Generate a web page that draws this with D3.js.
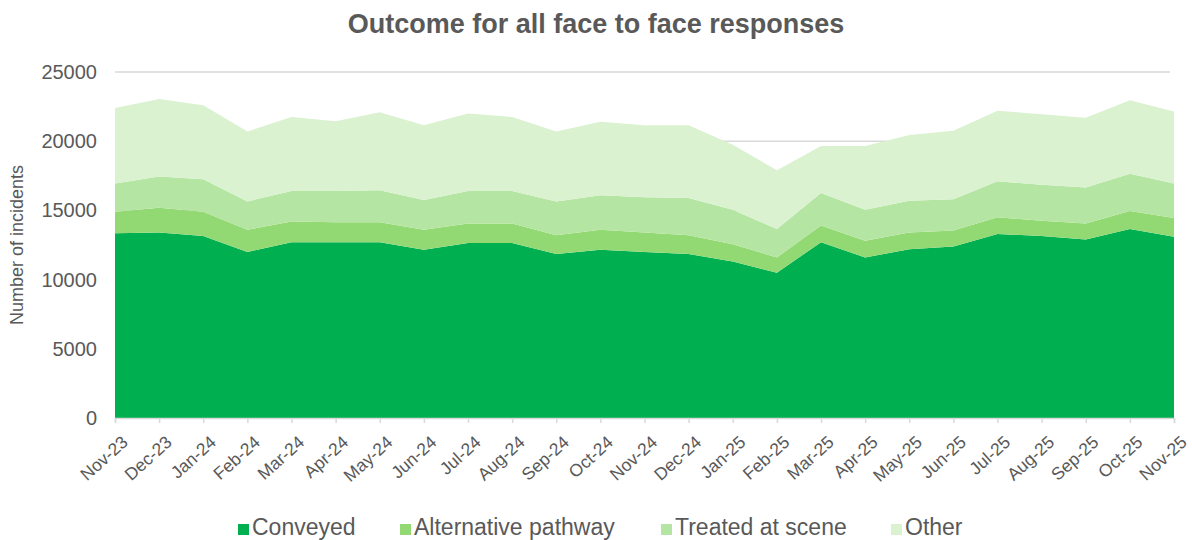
<!DOCTYPE html>
<html><head><meta charset="utf-8">
<script src="https://cdn.jsdelivr.net/npm/d3@7"></script>
<style>body{margin:0;background:#fff;}svg{display:block;font-family:"Liberation Sans",Arial,sans-serif;}</style>
</head><body>
<svg id="c" width="1192" height="540"></svg>
<script>
const months = ["Nov-23","Dec-23","Jan-24","Feb-24","Mar-24","Apr-24","May-24","Jun-24","Jul-24","Aug-24","Sep-24","Oct-24","Nov-24","Dec-24","Jan-25","Feb-25","Mar-25","Apr-25","May-25","Jun-25","Jul-25","Aug-25","Sep-25","Oct-25","Nov-25"];
const conveyed = [13350,13400,13150,12000,12700,12700,12700,12150,12650,12650,11850,12150,12000,11850,11300,10500,12700,11600,12200,12400,13300,13150,12900,13650,13100];
const alternative = [1550,1800,1750,1600,1500,1450,1450,1450,1400,1400,1350,1450,1400,1350,1250,1100,1200,1200,1200,1150,1200,1100,1150,1300,1350];
const treated = [2050,2250,2350,2050,2200,2250,2300,2150,2350,2350,2450,2500,2550,2700,2500,2050,2350,2250,2300,2250,2600,2600,2600,2700,2500];
const other = [5450,5600,5350,5050,5350,5050,5650,5400,5600,5350,5050,5300,5200,5250,4700,4250,3400,4600,4750,4950,5100,5100,5050,5300,5200];
const seriesNames = ["Conveyed","Alternative pathway","Treated at scene","Other"];
const yTicks = [0,5000,10000,15000,20000,25000];
const colors = ["#00B050","#92D973","#B5E5A2","#DAF2D0"];

const svg = d3.select("#c");
const L=115,R=1174,T=72,B=418;
const x = d3.scalePoint().domain(months).range([L,R]);
const y = d3.scaleLinear().domain([0,25000]).range([B,T]);
const data = months.map((m,i)=>({m, "Conveyed":conveyed[i], "Alternative pathway":alternative[i], "Treated at scene":treated[i], "Other":other[i]}));
const stack = d3.stack().keys(seriesNames)(data);

svg.append("text").attr("x",596).attr("y",33).attr("text-anchor","middle")
  .attr("font-size",27).attr("font-weight","bold").attr("fill","#595959")
  .text("Outcome for all face to face responses");

// gridlines
svg.append("g").selectAll("line").data(yTicks.filter(d=>d>0)).join("line")
  .attr("x1",L).attr("x2",R-4).attr("y1",d=>y(d)).attr("y2",d=>y(d))
  .attr("stroke","#D9D9D9").attr("stroke-width",1.5);

const area = d3.area().x(d=>x(d.data.m)).y0(d=>y(d[0])).y1(d=>y(d[1]));
svg.append("g").selectAll("path").data(stack).join("path")
  .attr("d",area).attr("fill",(d,i)=>colors[i]);

// y axis
const ya = svg.append("g").attr("transform",`translate(${L},0)`)
  .call(d3.axisLeft(y).tickValues(yTicks).tickFormat(d3.format("d")).tickSize(0).tickPadding(18));
ya.select(".domain").remove();
ya.selectAll("text").attr("font-size",20).attr("fill","#595959").attr("font-family","Liberation Sans, Arial, sans-serif");

// x axis
const xa = svg.append("g").attr("transform",`translate(0,${B})`)
  .call(d3.axisBottom(x).tickSize(5).tickPadding(6));
xa.select(".domain").attr("stroke","#D9D9D9").attr("stroke-width",1.5);
xa.selectAll(".tick line").attr("stroke","#D9D9D9").attr("stroke-width",1.5);
xa.selectAll("text").attr("font-size",17.5).attr("fill","#595959").attr("font-family","Liberation Sans, Arial, sans-serif")
  .attr("text-anchor","end").attr("dy","0.35em").attr("transform","translate(2,13) rotate(-42)");

svg.append("text").attr("transform","translate(23,245) rotate(-90)").attr("text-anchor","middle")
  .attr("font-size",18).attr("fill","#595959").text("Number of incidents");

// legend
const legX = [238,400,661,891];
const lg = svg.append("g").selectAll("g").data(seriesNames).join("g")
  .attr("transform",(d,i)=>`translate(${legX[i]},527)`);
lg.append("rect").attr("x",0).attr("y",-3).attr("width",11).attr("height",11).attr("fill",(d,i)=>colors[i]);
lg.append("text").attr("x",14).attr("y",7.5).attr("font-size",23).attr("fill","#595959").text(d=>d);
</script>
</body></html>
